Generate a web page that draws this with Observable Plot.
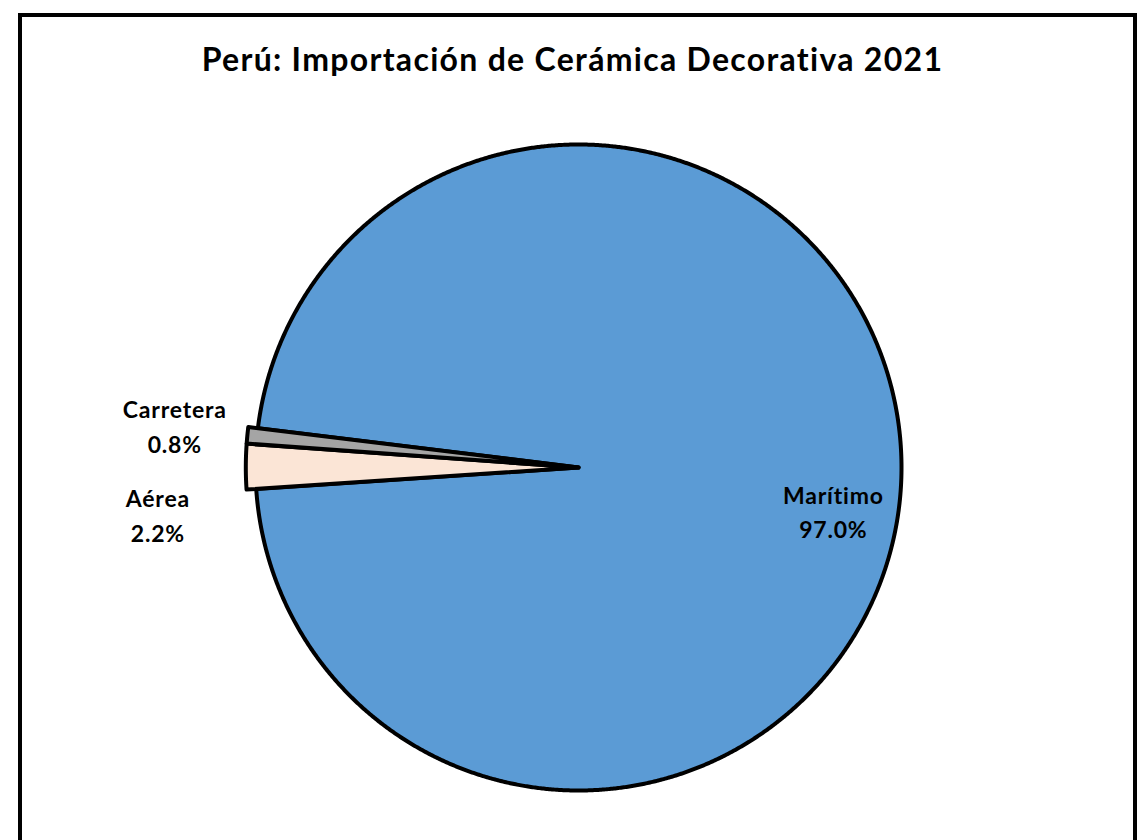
<!DOCTYPE html>
<html>
<head>
<meta charset="utf-8">
<script src="https://cdn.jsdelivr.net/npm/d3@7"></script>
<script src="https://cdn.jsdelivr.net/npm/@observablehq/plot@0.6"></script>
<style>
  html, body { margin: 0; padding: 0; background: #fff; overflow: hidden; }
  #page { position: relative; width: 1145px; height: 840px; }
  #frame { position: absolute; left: 18px; top: 13px; width: 1111px; height: 900px; border: 4px solid #000; }
  #title { position: absolute; left: 0; width: 1145px; top: 39px; text-align: center; letter-spacing: 1.3px;
           font-family: Lato, "Open Sans", sans-serif; font-weight: 700; font-size: 32px; color: #000; white-space: nowrap; }
  #chart { position: absolute; left: 0; top: 0; }
</style>
</head>
<body>
<div id="page">
  <div id="frame"></div>
  <div id="chart"></div>
  <div id="title">Perú: Importación de Cerámica Decorativa 2021</div>
</div>
<script>
// Data
const categories = ["Marítimo", "Aérea", "Carretera"];
const shares = [97.0, 2.2, 0.8];
const sliceColors = ["#5B9BD5", "#FBE5D6", "#A5A5A5"];

const data = categories.map((name, i) => ({name, value: shares[i]}));

// Pie layout (clockwise from 12 o'clock, rotated like the original)
const start = 277 * Math.PI / 180;
const arcs = d3.pie().sort(null).value(d => d.value).startAngle(start).endAngle(start + 2 * Math.PI)(data);

const explodeR = {"Marítimo": 1.0, "Aérea": 1.03, "Carretera": 1.03};
const pts = [];
for (const a of arcs) {
  const r = explodeR[a.data.name];
  pts.push({name: a.data.name, x: 0, y: 0});
  const n = Math.max(4, Math.ceil((a.endAngle - a.startAngle) / (0.25 * Math.PI / 180)));
  for (let k = 0; k <= n; k++) {
    const t = a.startAngle + (a.endAngle - a.startAngle) * k / n;
    pts.push({name: a.data.name, x: r * Math.sin(t), y: r * Math.cos(t)});
  }
  pts.push({name: a.data.name, x: 0, y: 0});
}

// Labels: mid-angle based, with best-fit style adjustments (degrees, clockwise)
const labelPlace = {"Marítimo": {r: 0.80, dAng: 7.9}, "Carretera": {r: 1.257, dAng: 0.5}, "Aérea": {r: 1.31, dAng: -6.4}};
const labels = arcs.map(a => {
  const p = labelPlace[a.data.name];
  const mid = (a.startAngle + a.endAngle) / 2 + p.dAng * Math.PI / 180;
  return {
    text: a.data.name + "\n" + a.data.value.toFixed(1) + "%",
    x: p.r * Math.sin(mid),
    y: p.r * Math.cos(mid)
  };
});

const chart = Plot.plot({
  width: 1145,
  height: 840,
  margin: 0,
  x: {domain: [-1, 1], range: [255, 901], axis: null},
  y: {domain: [-1, 1], range: [790, 144], axis: null},
  color: {domain: categories, range: sliceColors},
  style: {background: "transparent", letterSpacing: "0.8px"},
  marks: [
    Plot.line(pts, {x: "x", y: "y", z: "name", fill: "name", stroke: "#000", strokeWidth: 4, strokeLinejoin: "round", curve: "linear"}),
    Plot.text(labels, {x: "x", y: "y", text: "text", fontSize: 23, fontWeight: 700, fill: "#000",
      lineHeight: 1.5, fontFamily: "Lato, 'Open Sans', sans-serif", textAnchor: "middle"})
  ]
});
document.getElementById("chart").appendChild(chart);
</script>
</body>
</html>
